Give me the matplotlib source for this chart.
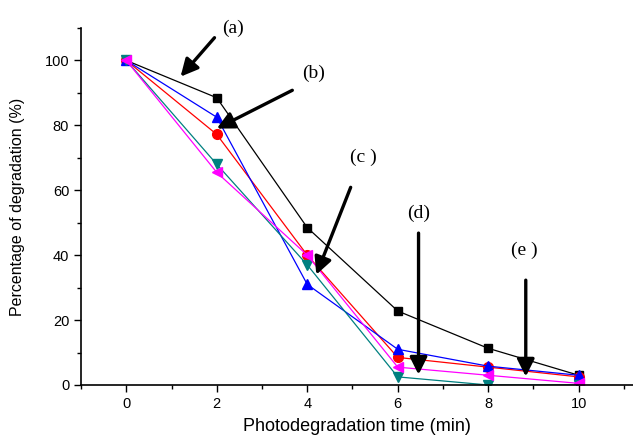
import matplotlib.pyplot as plt
from matplotlib.ticker import MultipleLocator

# Photodegradation data
time_min = [0, 2, 4, 6, 8, 10]
deg_a = [100, 88.5, 48.5, 22.8, 11.3, 3.0]   # black squares
deg_b = [100, 77.2, 40.0, 8.5, 5.5, 2.5]     # red circles
deg_c = [100, 82.5, 31.0, 11.0, 5.8, 3.0]    # blue up triangles
deg_d = [100, 68.0, 37.0, 2.5, 0.0, 0.0]     # teal down triangles
deg_e = [100, 65.5, 40.0, 5.5, 3.0, 0.5]     # magenta left triangles

# annotation labels: text position, arrow start, arrow end
labels = ['(a)', '(b)', '(c )', '(d)', '(e )']
label_xy = [(2.35, 110), (4.14, 96), (5.25, 70), (6.46, 53), (8.8, 41.5)]
arrow_from = [(1.95, 107), (3.67, 90.8), (4.96, 60.9), (6.46, 46.8), (8.83, 32.3)]
arrow_to = [(1.2, 95), (2.0, 79.0), (4.2, 34.0), (6.46, 3.2), (8.83, 2.6)]

fig = plt.figure(figsize=(6.33, 4.37), dpi=100)
ax = fig.add_axes([0.128, 0.119, 0.872, 0.817])

ax.plot(time_min, deg_a, color='black', marker='s', ms=6, lw=0.9)
ax.plot(time_min, deg_b, color='red', marker='o', ms=7, lw=0.9)
ax.plot(time_min, deg_c, color='blue', marker='^', ms=7, lw=0.9)
ax.plot(time_min, deg_d, color='#008080', marker='v', ms=7, lw=0.9)
ax.plot(time_min, deg_e, color='magenta', marker='<', ms=7, lw=0.9)

for lab, txy, s, e in zip(labels, label_xy, arrow_from, arrow_to):
    ax.text(txy[0], txy[1], lab, family='Liberation Serif', fontsize=14,
            ha='center', va='center')
    ax.annotate('', xy=e, xytext=s,
                arrowprops=dict(arrowstyle='-|>', lw=2.4, color='black',
                                mutation_scale=26, shrinkA=0, shrinkB=0))

ax.set_xlim(-1.0, 11.2)
ax.set_ylim(0, 110)
ax.xaxis.set_major_locator(MultipleLocator(2))
ax.xaxis.set_minor_locator(MultipleLocator(1))
ax.yaxis.set_major_locator(MultipleLocator(20))
ax.yaxis.set_minor_locator(MultipleLocator(10))
ax.spines['top'].set_visible(False)
ax.spines['right'].set_visible(False)
ax.spines['left'].set_linewidth(1.2)
ax.spines['bottom'].set_linewidth(1.2)
ax.tick_params(which='major', direction='out', length=5, width=1, labelsize=10.5)
ax.tick_params(which='minor', direction='out', length=3, width=1)
for t in ax.get_xticklabels() + ax.get_yticklabels():
    t.set_family('Liberation Sans')

ax.set_xlabel('Photodegradation time (min)', family='Liberation Sans',
              fontsize=13, labelpad=5)
ax.set_ylabel('Percentage of degradation (%)', family='Liberation Sans',
              fontsize=11.5, labelpad=14)

fig.savefig('out.png', dpi=100)
